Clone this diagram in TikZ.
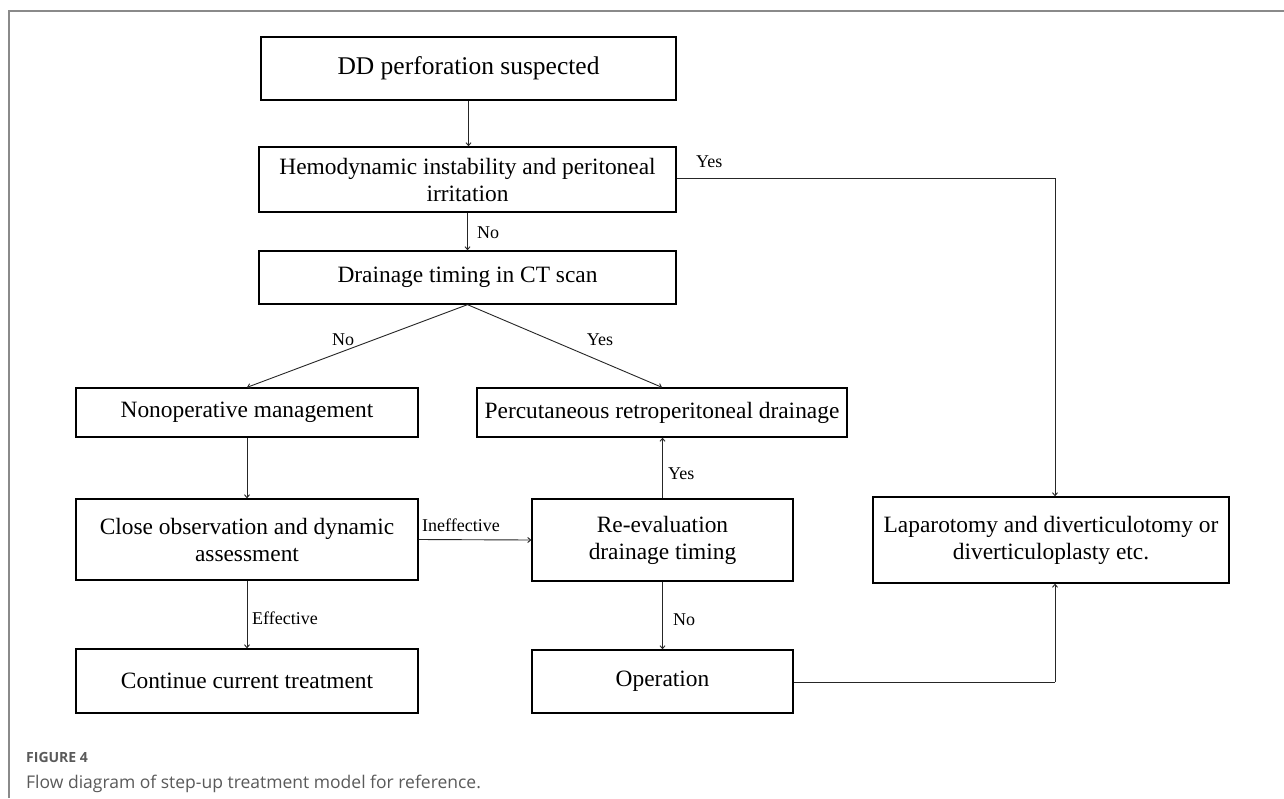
\documentclass[tikz,border=0pt]{standalone}
\usepackage{fontspec}
\setmainfont{Liberation Serif}
\newfontfamily\capfont{Open Sans}
\usetikzlibrary{arrows.meta}
\definecolor{capgray}{HTML}{5A5A5A}
\definecolor{framegray}{HTML}{8A8A8A}
\begin{document}
\begin{tikzpicture}[x=1pt,y=-1pt,
  box/.style={draw=black,line width=1.3pt,inner sep=0pt,align=center,font=\fontsize{23.4}{27}\selectfont},
  conn/.style={draw=black!85,line width=0.9pt},
  arr/.style={conn,-{Straight Barb[length=3pt,width=5pt]}},
  lab/.style={font=\fontsize{18}{20}\selectfont,inner sep=0pt,anchor=west},
]
\useasboundingbox (0,0) rectangle (1284,798);
\fill[white] (0,0) rectangle (1284,798);
\draw[framegray,line width=1.5pt] (9,798) -- (9,11) -- (1284,11);

\node[box,minimum width=415pt,minimum height=63pt,font=\fontsize{25.5}{29}\selectfont] (b1) at (468.5,68.5) {DD perforation suspected};
\node[box,minimum width=417pt,minimum height=65pt] (b2) at (467.5,179.5) {Hemodynamic instability and peritoneal\\irritation};
\node[box,minimum width=417pt,minimum height=53pt] (b3) at (467.5,277.5) {Drainage timing in CT scan};
\node[box,minimum width=342pt,minimum height=49pt] (b4) at (247,412.5) {Nonoperative management};
\node[box,minimum width=370pt,minimum height=49pt] (b5) at (662,412.5) {Percutaneous retroperitoneal drainage};
\node[box,minimum width=342pt,minimum height=81pt] (b6) at (247,539.5) {Close observation and dynamic\\assessment};
\node[box,minimum width=261pt,minimum height=82pt] (b7) at (662.5,540) {Re-evaluation\\drainage timing};
\node[box,minimum width=356pt,minimum height=86pt] (b8) at (1051,540) {Laparotomy and diverticulotomy or\\diverticuloplasty etc.};
\node[box,minimum width=342pt,minimum height=64pt] (b9) at (247,681) {Continue current treatment};
\node[box,minimum width=261pt,minimum height=63pt] (b10) at (662.5,681.5) {Operation};

\coordinate (c1) at (1055,178);
\coordinate (c2) at (1055,682);

\draw[arr] (b1.south) -- (b1.south |- b2.north);
\draw[arr] (b2.south) -- (b2.south |- b3.north);
\draw[conn] (b2.east |- c1) -- (c1);
\draw[arr] (c1) -- (c1 |- b8.north);
\draw[arr] (b3.south) -- (b4.north);
\draw[arr] (b3.south) -- (b5.north);
\draw[arr] (b4.south) -- (b6.north);
\draw[arr] (b6.south) -- (b9.north);
\draw[arr] (b6.east) -- (b7.west);
\draw[arr] (b7.north) -- (b5.south -| b7.north);
\draw[arr] (b7.south) -- (b10.north);
\draw[conn] (b10.east |- c2) -- (c2);
\draw[arr] (c2) -- (c2 |- b8.south);

\node[lab] (l1) at (477,233) {No};
\node[lab] (l2) at (696,162) {Yes};
\node[lab,anchor=center] (l3) at (343,340) {No};
\node[lab,anchor=center] (l4) at (600,340) {Yes};
\node[lab] (l5) at (252,618) {Effective};
\node[lab] (l6) at (422,525) {Ineffective};
\node[lab] (l7) at (668,474) {Yes};
\node[lab] (l8) at (673,620) {No};

\node[anchor=base west,inner sep=0pt,text=capgray,font=\capfont\bfseries\fontsize{14}{16}\selectfont] (fig) at (26,762) {FIGURE 4};
\node[anchor=base west,inner sep=0pt,text=capgray,font=\capfont\fontsize{17.5}{20}\selectfont] (cap) at (26,788) {Flow diagram of step-up treatment model for reference.};
\end{tikzpicture}
\end{document}
